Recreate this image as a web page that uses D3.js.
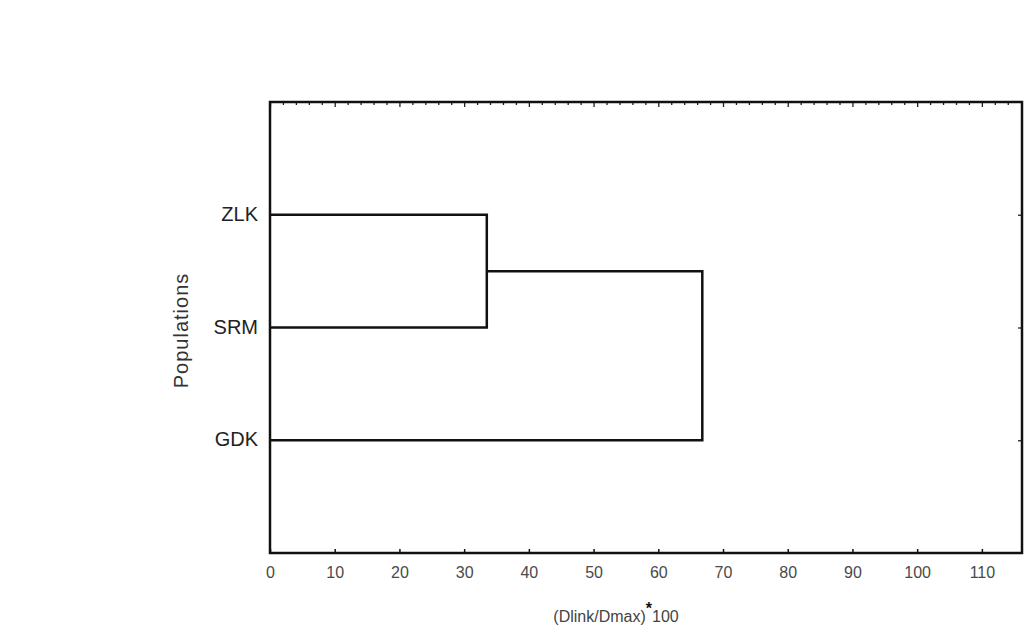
<!DOCTYPE html>
<html>
<head>
<meta charset="utf-8">
<script src="https://cdn.jsdelivr.net/npm/d3@7"></script>
<style>
  body { margin: 0; background: #fff; }
  svg { display: block; }
</style>
</head>
<body>
<div id="chart"></div>
<script>
// leaves of the tree, top to bottom
const leaves = ["ZLK", "SRM", "GDK"];
// merges: [left member, right member, new cluster name]
const merges = [["ZLK", "SRM", "ZLK+SRM"], ["ZLK+SRM", "GDK", "ALL"]];
// linkage distance of each merge, (Dlink/Dmax)*100
const mergeHeights = [33.5, 66.8];
const xTicks = [0, 10, 20, 30, 40, 50, 60, 70, 80, 90, 100, 110];

const svgwidth = 1024;
const svgheight = 637;

const svg = d3.select("#chart").append("svg")
    .attr("width", svgwidth).attr("height", svgheight);

svg.append("rect").attr("width", svgwidth).attr("height", svgheight).attr("fill", "#fff");

// plot area edges
const plotLeft = 270, plotRight = 1022, plotTop = 102, plotBottom = 553;

const x = d3.scaleLinear().domain([0, 116.2]).range([plotLeft, plotRight]);
const y = d3.scaleLinear().domain([0, leaves.length + 1]).range([plotTop, plotBottom]);

// node positions: leaves at height 0, clusters at the merge height
const nodes = {};
leaves.forEach((d, i) => { nodes[d] = { h: 0, pos: i + 1 }; });
merges.forEach((m, i) => {
    nodes[m[2]] = { h: mergeHeights[i], pos: (nodes[m[0]].pos + nodes[m[1]].pos) / 2 };
});

// bottom axis, ticks pointing up into the frame
const xAxis = d3.axisBottom(x).tickValues(xTicks).tickSizeInner(-4).tickSizeOuter(0).tickPadding(14);
const gx = svg.append("g").attr("transform", `translate(0,${plotBottom})`).call(xAxis);
gx.select(".domain").remove();
gx.selectAll(".tick line").attr("stroke", "#111").attr("stroke-width", 1.5);
gx.selectAll(".tick text")
    .attr("font-family", "Liberation Sans, Arial, sans-serif")
    .attr("font-size", 16)
    .attr("fill", "#4a4a4a");

// top axis: minor ticks every 2, majors every 10, pointing down
const minor = d3.range(2, 116, 2).filter(d => d % 10 !== 0);
const gt = svg.append("g").attr("transform", `translate(0,${plotTop})`)
    .call(d3.axisTop(x).tickValues(minor).tickSizeInner(-3).tickSizeOuter(0).tickFormat(""));
const gt2 = svg.append("g").attr("transform", `translate(0,${plotTop})`)
    .call(d3.axisTop(x).tickValues(xTicks).tickSizeInner(-5).tickSizeOuter(0).tickFormat(""));
[gt, gt2].forEach(g => {
    g.select(".domain").remove();
    g.selectAll(".tick line").attr("stroke", "#222").attr("stroke-width", 1.3);
});

// right axis, small ticks at each leaf pointing left
const gr = svg.append("g").attr("transform", `translate(${plotRight},0)`)
    .call(d3.axisRight(y).tickValues(leaves.map((d, i) => i + 1)).tickSizeInner(-4).tickSizeOuter(0).tickFormat(""));
gr.select(".domain").remove();
gr.selectAll(".tick line").attr("stroke", "#222").attr("stroke-width", 1.3);

// leaf labels
svg.append("g").selectAll("text")
    .data(leaves).enter()
    .append("text")
    .attr("x", plotLeft - 12)
    .attr("y", (d, i) => y(i + 1))
    .attr("dy", "0.3em")
    .attr("text-anchor", "end")
    .attr("font-family", "Liberation Sans, Arial, sans-serif")
    .attr("font-size", 20)
    .attr("fill", "#222")
    .text(d => d);

// dendrogram links (elbow shape)
const linkPath = m => {
    const a = nodes[m[0]], b = nodes[m[1]], c = nodes[m[2]];
    return `M${x(a.h)},${y(a.pos)}H${x(c.h)}V${y(b.pos)}H${x(b.h)}`;
};
svg.append("g").selectAll("path")
    .data(merges).enter()
    .append("path")
    .attr("d", linkPath)
    .attr("fill", "none")
    .attr("stroke", "#111")
    .attr("stroke-width", 2.5);

// frame
svg.append("rect")
    .attr("x", plotLeft).attr("y", plotTop)
    .attr("width", plotRight - plotLeft).attr("height", plotBottom - plotTop)
    .attr("fill", "none")
    .attr("stroke", "#111")
    .attr("stroke-width", 2.5);

// axis titles
svg.append("text")
    .attr("transform", `translate(188,${(plotTop + plotBottom) / 2 + 3}) rotate(-90)`)
    .attr("text-anchor", "middle")
    .attr("font-family", "Liberation Sans, Arial, sans-serif")
    .attr("font-size", 20)
    .attr("letter-spacing", 1)
    .attr("fill", "#333")
    .text("Populations");

const xt = svg.append("text")
    .attr("x", 616).attr("y", 622)
    .attr("text-anchor", "middle")
    .attr("font-family", "Liberation Sans, Arial, sans-serif")
    .attr("font-size", 16)
    .attr("fill", "#444");
xt.append("tspan").text("(Dlink/Dmax)");
xt.append("tspan").attr("dy", -8).attr("font-weight", "bold").attr("fill", "#111").text("*");
xt.append("tspan").attr("dy", 8).text("100");
</script>
</body>
</html>
